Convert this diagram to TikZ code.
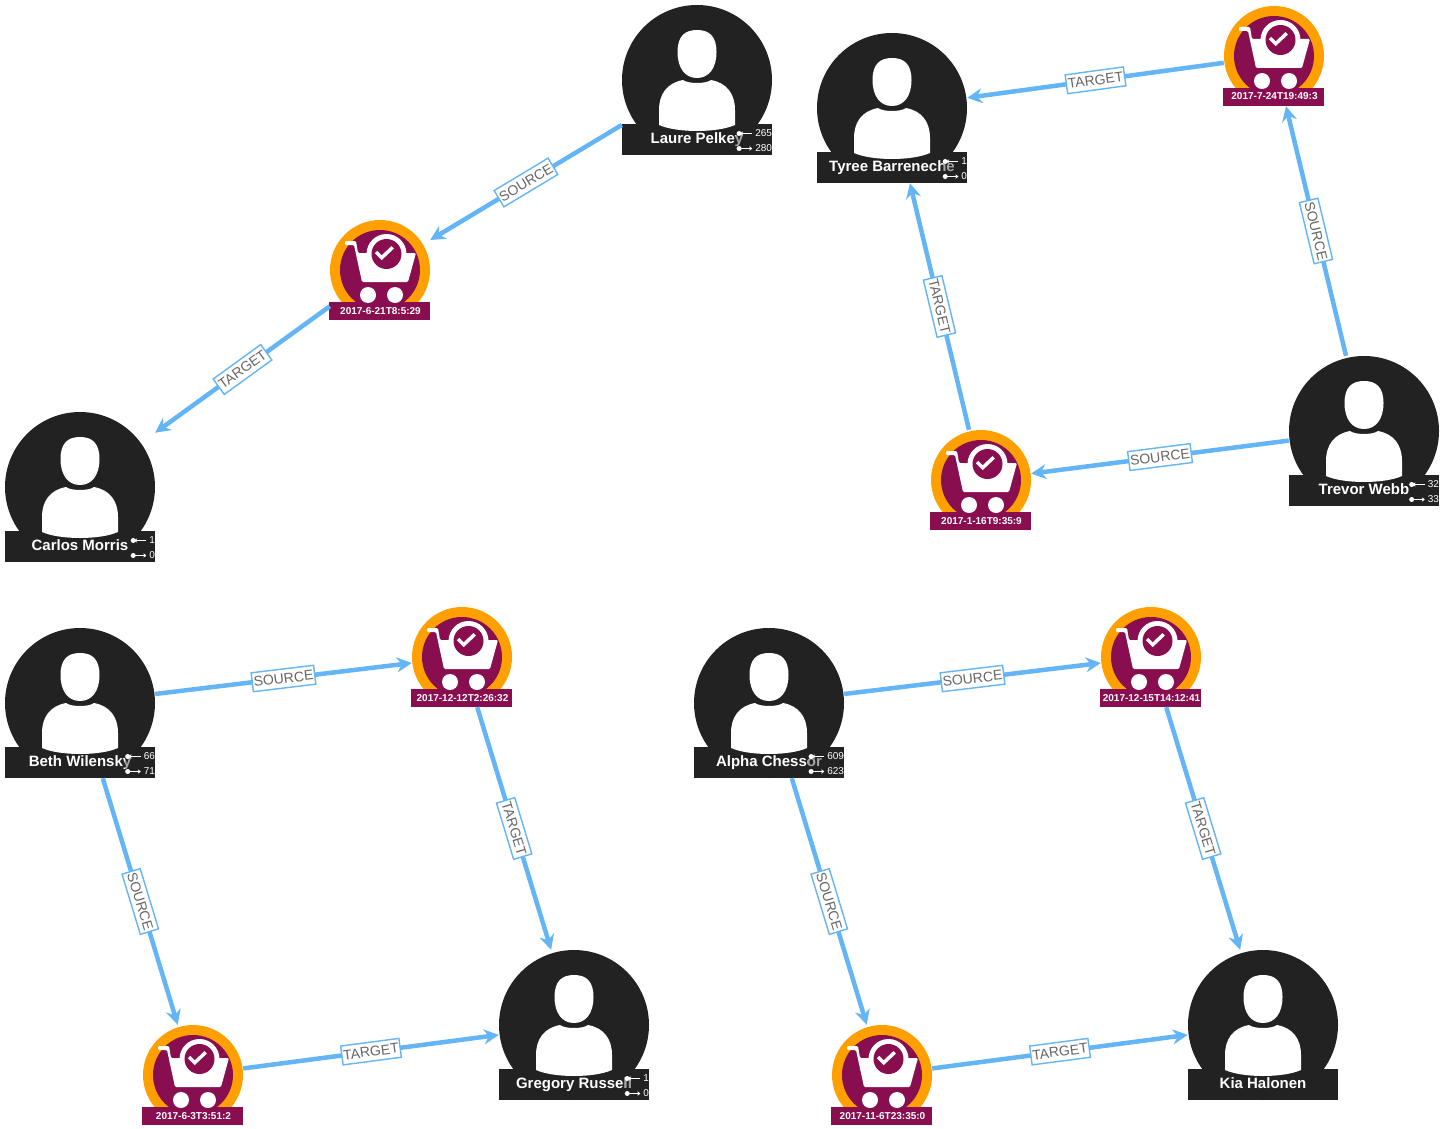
\documentclass[tikz,border=0pt]{standalone}
\usepackage{fontspec}
\setmainfont{Liberation Sans}
\usepackage{tikz}
\usetikzlibrary{arrows.meta,positioning,calc}
\definecolor{darkfig}{HTML}{222222}
\definecolor{orderring}{HTML}{FFA000}
\definecolor{orderfill}{HTML}{880E4F}
\definecolor{linkblue}{HTML}{64B5F6}
\definecolor{linktext}{HTML}{666666}

\begin{document}
\begin{tikzpicture}[
    x=1pt, y=-1pt,
    personbox/.style={rectangle, minimum size=150pt, inner sep=0pt},
    orderbox/.style={rectangle, minimum size=100pt, inner sep=0pt},
    nametext/.style={text=white, inner sep=0pt, anchor=base, font=\fontsize{15}{15}\selectfont\bfseries},
    datetext/.style={text=white, inner sep=0pt, anchor=base, font=\fontsize{10}{10}\selectfont\bfseries},
    counttext/.style={text=white, inner sep=0pt, anchor=east, font=\fontsize{10}{10}\selectfont},
    linkarrow/.style={draw=linkblue, line width=4.5pt,
                      -{Stealth[length=15pt, width=15pt, inset=5pt]}},
    linklabel/.style={draw=linkblue, line width=1.4pt, fill=white, text=linktext,
                      inner xsep=1.5pt, inner ysep=0pt, minimum height=19pt,
                      font=\fontsize{14}{14}\selectfont},
    countarrow/.style={draw=white, line width=0.8pt, -{To[length=3pt, width=4pt]}},
  ]
  \useasboundingbox (0,0) rectangle (1443,1129);

  % people
  \foreach \n/\x/\y/\txt in {laure/697/80/Laure Pelkey, tyree/892/108/Tyree Barreneche,
      trevor/1364/431/Trevor Webb, carlos/80/487/Carlos Morris, beth/80/703/Beth Wilensky,
      gregory/574/1025/Gregory Russell, alpha/769/703/Alpha Chessor, kia/1263/1025/Kia Halonen} {
    \node[personbox] (\n) at (\x,\y) {};
    \begin{scope}[shift={(\x,\y)}]
      \fill[darkfig] (0,0) circle (75);
      \fill[white] (-19.5,-28) .. controls (-19.5,-44) and (-12,-50) .. (0,-50)
        .. controls (12,-50) and (19.5,-44) .. (19.5,-28)
        .. controls (19.5,-12) and (12,-2) .. (0,-2)
        .. controls (-12,-2) and (-19.5,-12) .. (-19.5,-28) -- cycle;
      \fill[darkfig] (-75.5,44) rectangle (75,75);
      \fill[white] (-38,45) -- (-38,30) .. controls (-38,14) and (-30,3) .. (-14,0)
        .. controls (-9,4) and (9,4) .. (14,0)
        .. controls (30,3) and (38,14) .. (38,30) -- (38,45)
        .. controls (20,53) and (-20,53) .. (-38,45) -- cycle;
    \end{scope}
    \node[nametext] (\n-name) at ([yshift=-63.3pt]\n.center) {\txt};
  }

  % counters next to the names
  \foreach \n/\cin/\cout/\w in {laure/265/280/36, tyree/1/0/24, trevor/32/33/30, carlos/1/0/24,
      beth/66/71/30, gregory/1/0/24, alpha/609/623/36} {
    \fill[darkfig, opacity=0.4] ([xshift=-\w pt,yshift=-44pt]\n.east) rectangle ([yshift=-75pt]\n.east);
    \node[counttext] (\n-in) at ([yshift=-53.5pt]\n.east) {\cin};
    \node[counttext] (\n-out) at ([yshift=-68.5pt]\n.east) {\cout};
    \fill[white] ([xshift=-16pt]\n-in.west) circle (2.5);
    \fill[white] ([xshift=-16pt]\n-out.west) circle (2.5);
    \draw[countarrow] ([xshift=-3pt]\n-in.west) -- ([xshift=-15pt]\n-in.west);
    \draw[countarrow] ([xshift=-15pt]\n-out.west) -- ([xshift=-3pt]\n-out.west);
  }

  % orders
  \foreach \n/\x/\y/\txt in {orderA/380/270/2017-6-21T8:5:29, orderB/1274/56/2017-7-24T19:49:3,
      orderC/981/480/2017-1-16T9:35:9, orderD/462/657/2017-12-12T2:26:32,
      orderE/1151/657/2017-12-15T14:12:41, orderF/193/1075/2017-6-3T3:51:2,
      orderG/882/1075/2017-11-6T23:35:0} {
    \node[orderbox] (\n) at (\x,\y) {};
    \begin{scope}[shift={(\x,\y)}]
      \fill[orderring] (0,0) circle (50);
      \fill[orderfill] (0,0) circle (40);
      \fill[orderfill] (-51,32) rectangle (50,50);
      \fill[white, rounded corners=1.2pt] (-35,-29) -- (-24,-29) -- (-22,-17) -- (36,-17)
        -- (28,12) -- (-18,12) -- (-26,-25) -- (-35,-25) -- cycle;
      \fill[white] (6.5,-16) circle (20);
      \fill[orderfill] (6.5,-16) circle (15);
      \draw[white, line width=3.5pt] (-4,-18) -- (1.7,-12.3) -- (12.7,-22.7);
      \fill[white] (-12,25) circle (8);
      \fill[white] (15,25) circle (8);
    \end{scope}
    \node[datetext] (\n-date) at ([xshift=0.5pt,yshift=-44pt]\n.center) {\txt};
  }

  % links
  \foreach \a/\b/\lab in {laure/orderA/SOURCE, orderA/carlos/TARGET,
      trevor/orderB/SOURCE, orderB/tyree/TARGET, trevor/orderC/SOURCE, orderC/tyree/TARGET,
      beth/orderD/SOURCE, orderD/gregory/TARGET, beth/orderF/SOURCE, orderF/gregory/TARGET,
      alpha/orderE/SOURCE, orderE/kia/TARGET, alpha/orderG/SOURCE, orderG/kia/TARGET} {
    \draw[linkarrow] (\a) -- (\b) node[midway, sloped, linklabel] (\a-\b) {\lab};
  }
\end{tikzpicture}
\end{document}
